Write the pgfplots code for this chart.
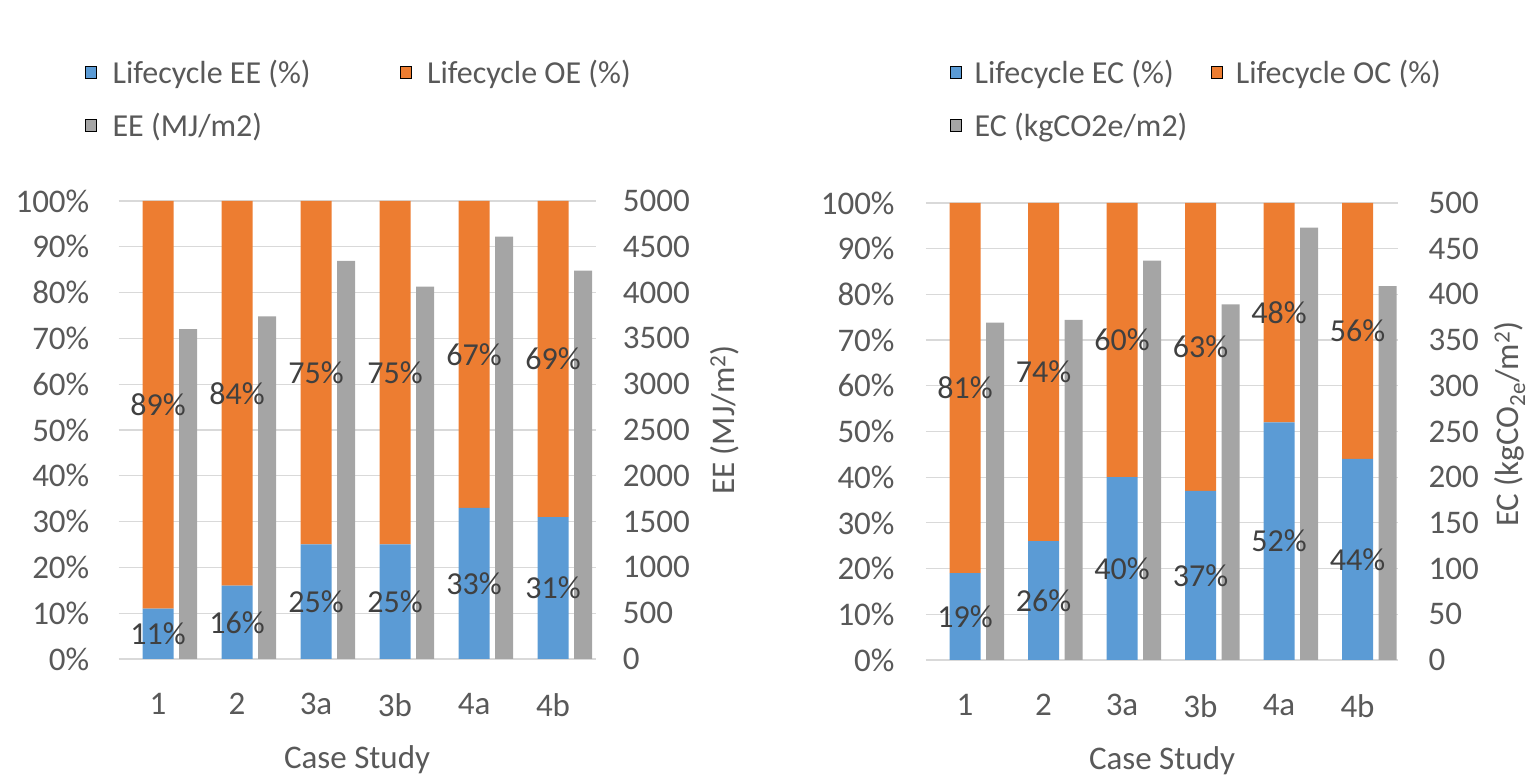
\documentclass[border=0pt]{standalone}
\usepackage{fontspec}
\setmainfont{Carlito}
\usepackage{pgfplots}
\usepackage{pgfplotstable}
\pgfplotsset{compat=1.18}
\definecolor{cblue}{HTML}{5B9BD5}
\definecolor{corange}{HTML}{ED7D31}
\definecolor{cgray}{HTML}{A5A5A5}
\definecolor{ctext}{HTML}{595959}
\definecolor{clabel}{HTML}{404040}
\definecolor{cgrid}{HTML}{D9D9D9}

\pgfplotstableread{
x b o v
0 11 89 3600
1 16 84 3740
2 25 75 4345
3 25 75 4065
4 33 67 4610
5 31 69 4240
}\energy
\pgfplotstableread{
x b o v
0 19 81 369
1 26 74 372
2 40 60 437
3 37 63 389
4 52 48 473
5 44 56 409
}\carbon

\newcommand{\tfont}{\fontsize{33}{40}\selectfont}
\newcommand{\lfont}{\fontsize{32}{38}\selectfont}

\pgfplotsset{
  /pgf/number format/assume math mode=true,
  /pgf/number format/1000 sep={},
  base/.style={
    scale only axis, xmin=-0.5, anchor=south west,
    axis line style={draw=none}, major tick length=0pt,
    tick label style={font=\tfont, text=ctext, inner sep=0pt},
    label style={font=\tfont, text=ctext, inner sep=0pt},
    clip=false,
  },
  leftgeom/.style={base, at={(118.5pt,122pt)}, width=477.2pt, height=458pt, xmax=5.54},
  rightgeom/.style={base, at={(925.75pt,121pt)}, width=472.6pt, height=457pt, xmax=5.52},
  pctaxis/.style={
    ymin=0, ymax=100, ybar stacked, bar width=31pt,
    ytick={0,10,...,100}, yticklabel={\pgfmathprintnumber{\tick}\%},
    ymajorgrids, grid style={cgrid, line width=1.2pt},
    axis y line*=left, axis x line*=bottom,
    xtick={0,...,5}, xticklabels={1,2,3a,3b,4a,4b},
    xticklabel style={anchor=north, yshift=-34pt},
    xlabel={Case Study},
    xlabel style={at={(axis description cs:0.5,0)}, anchor=north, yshift=-86pt},
  },
  absaxis/.style={
    ymin=0, ybar, bar width=18pt, bar shift=30pt,
    axis y line*=right, hide x axis, scaled y ticks=false,
  },
  lblaxis/.style={
    ymin=0, ymax=100, hide axis,
    nodes near coords={\pgfmathprintnumber{\pgfplotspointmeta}\%},
    point meta=explicit,
    every node near coord/.style={anchor=center, font=\lfont, text=clabel, inner sep=0pt},
    legend columns=2,
    legend image code/.code={\fill[##1] (0pt,-6pt) rectangle (11pt,6pt);},
  },
}

\begin{document}
\begin{tikzpicture}
\useasboundingbox (0pt,0pt) rectangle (1537pt,781pt);

% ---------- Left panel ----------
\begin{axis}[leftgeom, pctaxis, yticklabel style={anchor=east, xshift=-29pt}]
\addplot[fill=cblue, draw=none] table[x=x,y=b]{\energy};
\addplot[fill=corange, draw=none] table[x=x,y=o]{\energy};
\end{axis}
\begin{axis}[leftgeom, absaxis, ymax=5000, ytick={0,500,...,5000},
  yticklabel style={anchor=west, xshift=27pt},
  ylabel={EE (MJ/m\textsuperscript{2})},
  ylabel style={at={(axis description cs:1.270,0.522)}, anchor=center}]
\addplot[fill=cgray, draw=none] table[x=x,y=v]{\energy};
\end{axis}
\begin{axis}[leftgeom, lblaxis,
  legend style={font=\lfont, text=ctext, draw=none, fill=none, inner sep=0pt,
    nodes={inner sep=0pt}, row sep=28pt, legend cell align=left,
    at={(axis description cs:-0.0702,1.308)}, anchor=north west,
    /tikz/every odd column/.append style={column sep=16pt},
    /tikz/every even column/.append style={column sep=89pt}}]
\addplot[draw=none, forget plot] table[x=x, y expr=\thisrow{b}/2, meta=b]{\energy};
\addplot[draw=none, forget plot] table[x=x, y expr=\thisrow{b}+\thisrow{o}/2, meta=o]{\energy};
\addlegendimage{fill=cblue}\addlegendentry{Lifecycle EE (\%)}
\addlegendimage{fill=corange}\addlegendentry{Lifecycle OE (\%)}
\addlegendimage{fill=cgray}\addlegendentry{EE (MJ/m2)}
\end{axis}

% ---------- Right panel ----------
\begin{axis}[rightgeom, pctaxis, yticklabel style={anchor=east, xshift=-31pt}]
\addplot[fill=cblue, draw=none] table[x=x,y=b]{\carbon};
\addplot[fill=corange, draw=none] table[x=x,y=o]{\carbon};
\end{axis}
\begin{axis}[rightgeom, absaxis, ymax=500, ytick={0,50,...,500},
  yticklabel style={anchor=west, xshift=30pt},
  ylabel={EC (kgCO\textsubscript{2e}/m\textsuperscript{2})},
  ylabel style={at={(axis description cs:1.236,0.516)}, anchor=center}]
\addplot[fill=cgray, draw=none] table[x=x,y=v]{\carbon};
\end{axis}
\begin{axis}[rightgeom, lblaxis,
  legend style={font=\lfont, text=ctext, draw=none, fill=none, inner sep=0pt,
    nodes={inner sep=0pt}, row sep=28pt, legend cell align=left,
    at={(axis description cs:0.0513,1.313)}, anchor=north west,
    /tikz/every odd column/.append style={column sep=13pt},
    /tikz/every even column/.append style={column sep=24pt}}]
\addplot[draw=none, forget plot] table[x=x, y expr=\thisrow{b}/2, meta=b]{\carbon};
\addplot[draw=none, forget plot] table[x=x, y expr=\thisrow{b}+\thisrow{o}/2, meta=o]{\carbon};
\addlegendimage{fill=cblue}\addlegendentry{Lifecycle EC (\%)}
\addlegendimage{fill=corange}\addlegendentry{Lifecycle OC (\%)}
\addlegendimage{fill=cgray}\addlegendentry{EC (kgCO2e/m2)}
\end{axis}
\end{tikzpicture}
\end{document}
